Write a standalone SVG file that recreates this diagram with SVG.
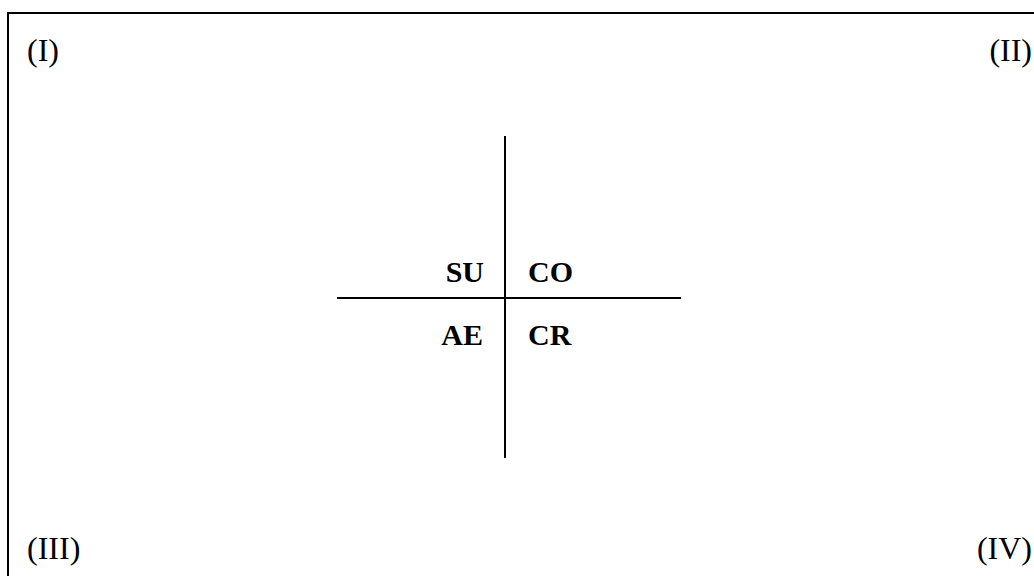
<svg xmlns="http://www.w3.org/2000/svg" width="1034" height="576" viewBox="0 0 1034 576">
<style>
.corner{font-family:"Liberation Serif","Times New Roman",serif;font-size:32px;fill:#000}
.lbl{font-family:"Liberation Serif","Times New Roman",serif;font-size:30px;font-weight:bold;fill:#000}
.ln{stroke:#000;stroke-width:2;fill:none}
</style>
<rect x="0" y="0" width="1034" height="576" fill="#fff"/>
<g id="frame"><path class="ln" d="M8,600 V13 H1040"/></g>
<g id="corner-I"><text class="corner" x="27" y="61">(I)</text></g>
<g id="corner-II"><text class="corner" x="1032" y="61" text-anchor="end">(II)</text></g>
<g id="corner-III"><text class="corner" x="27" y="559">(III)</text></g>
<g id="corner-IV"><text class="corner" x="1032" y="559" text-anchor="end">(IV)</text></g>
<g id="connectors">
<line class="ln" x1="505" y1="136" x2="505" y2="458"/>
<line class="ln" x1="337" y1="298" x2="681" y2="298"/>
</g>
<g id="SU"><text class="lbl" x="484" y="282" text-anchor="end">SU</text></g>
<g id="CO"><text class="lbl" x="528" y="282">CO</text></g>
<g id="AE"><text class="lbl" x="483" y="345" text-anchor="end">AE</text></g>
<g id="CR"><text class="lbl" x="528" y="345">CR</text></g>
</svg>
